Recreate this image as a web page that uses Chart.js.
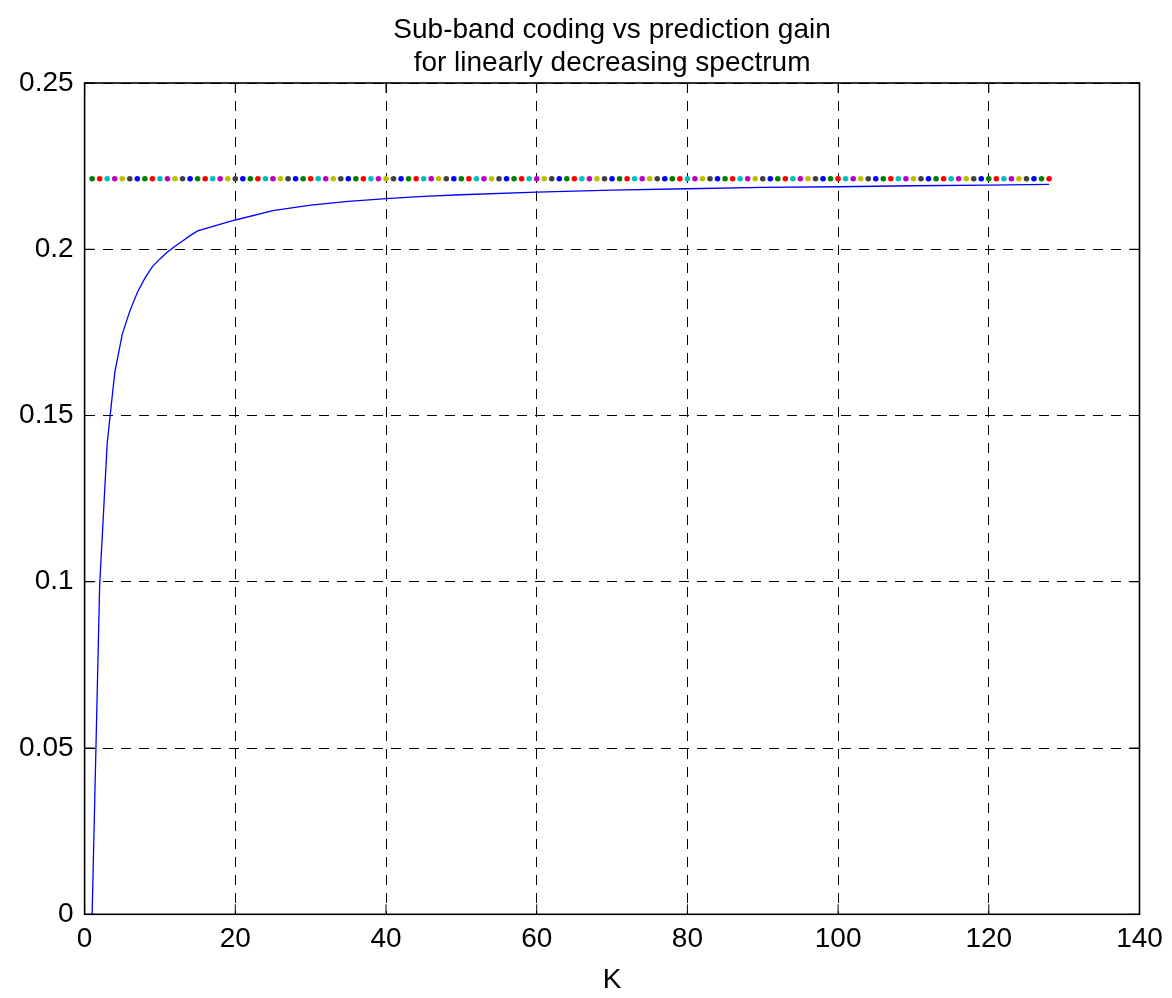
<!DOCTYPE html>
<html>
<head>
<meta charset="utf-8">
<title>Sub-band coding vs prediction gain</title>
<script src="https://cdn.jsdelivr.net/npm/chart.js@4.4.1/dist/chart.umd.min.js"></script>
<style>
  html, body { margin: 0; padding: 0; background: #fff; }
  canvas { display: block; }
</style>
</head>
<body>
<canvas id="gainChart" width="1172" height="998"></canvas>
<script>
// Number of bands K and the flat prediction-gain level, one dot per K
const bandK = Array.from({ length: 128 }, (_, i) => i + 1);
const predictionGain = 0.2212;

// Sub-band coding gain, read at these K
const subbandK = [1, 2, 3, 4, 5, 6, 7, 8, 9, 10, 11, 12, 13, 14, 15, 20, 25, 30, 35, 40, 45, 50, 60, 70, 80, 90, 100, 110, 120, 128];
const subbandGain = [0, 0.0990, 0.1417, 0.1629, 0.1745, 0.1814, 0.1870, 0.1913, 0.1948, 0.1971,
                     0.1992, 0.2009, 0.2025, 0.2041, 0.2055, 0.2088, 0.2116, 0.2133, 0.2144, 0.2152,
                     0.2159, 0.2164, 0.2172, 0.2178, 0.2182, 0.2186, 0.2188, 0.2191, 0.2193, 0.2195];

const xTicks = [0, 20, 40, 60, 80, 100, 120, 140];
const yTicks = [0, 0.05, 0.1, 0.15, 0.2, 0.25];

// old MATLAB colour order, dots start on green
const dotColors = ["#008000", "#ff0000", "#00bfbf", "#bf00bf", "#bfbf00", "#404040", "#0000ff"];

Chart.defaults.font.family = "'Liberation Sans', Arial, sans-serif";
Chart.defaults.font.size = 28;
Chart.defaults.color = "#000";

// solid box round the axes plus inward tick marks on all four sides
const axesBox = {
    id: "axesBox",
    afterDraw(chart) {
        const { ctx, chartArea: a, scales } = chart;
        const len = 10;
        ctx.save();
        ctx.strokeStyle = "#000";
        ctx.lineWidth = 1;
        ctx.beginPath();
        xTicks.forEach(v => {
            const px = scales.x.getPixelForValue(v);
            ctx.moveTo(px, a.bottom); ctx.lineTo(px, a.bottom - len);
            ctx.moveTo(px, a.top); ctx.lineTo(px, a.top + len);
        });
        yTicks.forEach(v => {
            const py = scales.y.getPixelForValue(v);
            ctx.moveTo(a.left, py); ctx.lineTo(a.left + len, py);
            ctx.moveTo(a.right, py); ctx.lineTo(a.right - len, py);
        });
        ctx.stroke();
        ctx.lineWidth = 1.6;
        ctx.strokeRect(a.left, a.top, a.right - a.left, a.bottom - a.top);
        ctx.restore();
    }
};

const gridOpts = { color: "#000", lineWidth: 1, drawTicks: false };
const borderOpts = { display: false, dash: [10, 8] };

new Chart(document.getElementById("gainChart"), {
    type: "line",
    data: {
        datasets: [
            {
                label: "Sub-band coding",
                data: subbandK.map((k, i) => ({ x: k, y: subbandGain[i] })),
                borderColor: "#0000ff",
                borderWidth: 1.3,
                pointRadius: 0,
                tension: 0,
                fill: false
            },
            {
                label: "Prediction gain",
                data: bandK.map(k => ({ x: k, y: predictionGain })),
                showLine: false,
                pointRadius: 2.8,
                pointBorderWidth: 0,
                pointBackgroundColor: bandK.map((k, i) => dotColors[i % dotColors.length])
            }
        ]
    },
    options: {
        responsive: false,
        animation: false,
        devicePixelRatio: 1,
        layout: { padding: { left: 0, right: 32.5, top: 0, bottom: 0 } },
        plugins: {
            legend: { display: false },
            tooltip: { enabled: false },
            title: {
                display: true,
                fullSize: false,
                text: ["Sub-band coding vs prediction gain", "for linearly decreasing spectrum"],
                font: { size: 28, weight: "normal", lineHeight: 1.2 },
                color: "#000",
                padding: { top: 13, bottom: 2.8 }
            }
        },
        scales: {
            x: {
                type: "linear",
                min: 0,
                max: 140,
                afterBuildTicks: s => { s.ticks = xTicks.map(v => ({ value: v })); },
                afterFit: s => { s.height = 83.7; },
                ticks: { padding: 8, maxRotation: 0, autoSkip: false, callback: v => String(v) },
                grid: gridOpts,
                border: borderOpts,
                title: { display: true, text: "K", padding: { top: 0, bottom: 1 } }
            },
            y: {
                min: 0,
                max: 0.25,
                afterBuildTicks: s => { s.ticks = yTicks.map(v => ({ value: v })); },
                afterFit: s => { s.width = 84.6; },
                ticks: { padding: 11, autoSkip: false, callback: v => String(v) },
                grid: gridOpts,
                border: borderOpts
            }
        }
    },
    plugins: [axesBox]
});
</script>
</body>
</html>
